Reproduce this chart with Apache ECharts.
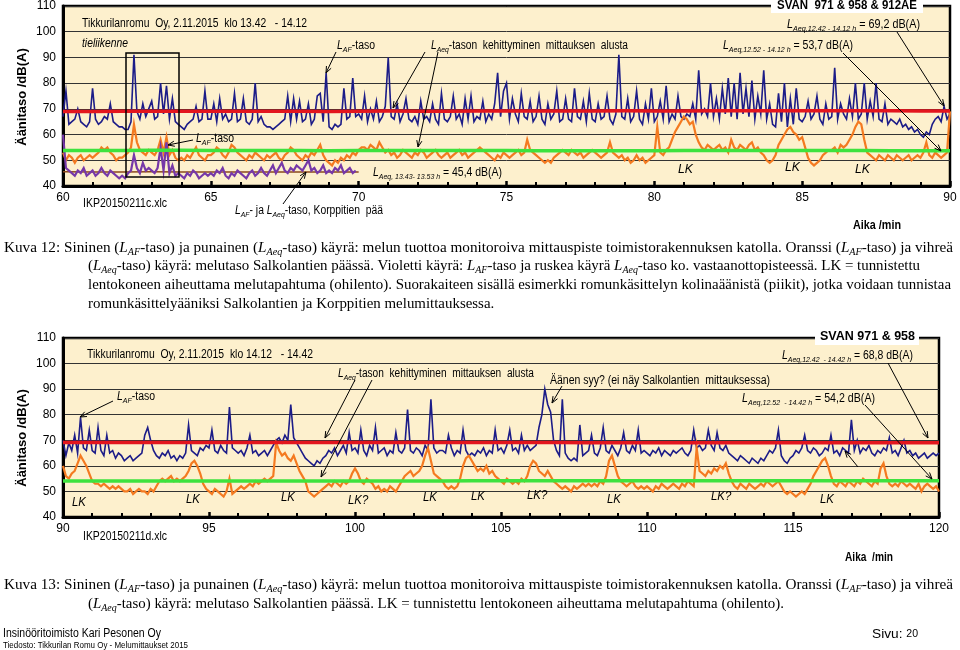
<!DOCTYPE html>
<html><head><meta charset="utf-8">
<script src="https://cdn.jsdelivr.net/npm/echarts@6/dist/echarts.min.js"></script>
<style>html,body{margin:0;padding:0;background:#fff;}#c{width:960px;height:650px;}</style>
</head><body><div id="c"></div>
<script>
// ---------- DATA ----------
const STEP = 0.1;                 // minutes between samples
const topStart = 60, botStart = 90;
const xTicksTop = [60, 65, 70, 75, 80, 85, 90];
const xTicksBot = [90, 95, 100, 105, 110, 115, 120];
const yTicks = [40, 50, 60, 70, 80, 90, 100, 110];

// Kuva 12 – roof (blue LAF) 60.0 … 90.0 min
const topBlueLAF = [
67,77,64,65,66,70,65,64,63,65,
78,66,64,65,67,66,72,65,64,63,
63,62,62,65,91,69,66,72,67,70,
73,66,67,80,68,79,66,74,65,64,
63,62,64,65,66,71,65,66,77,66,
66,72,65,74,66,68,65,66,76,65,
66,74,65,64,66,80,65,67,64,63,
63,62,63,64,65,66,75,65,74,66,
73,65,66,72,64,66,75,76,65,84,
63,62,64,63,64,78,66,67,82,67,
68,66,75,65,70,66,73,65,67,71,
90,67,66,72,65,68,74,66,65,67,
64,73,66,67,65,72,66,64,76,66,
65,67,75,66,68,64,74,66,75,65,
67,66,73,65,68,66,72,84,67,77,
80,66,74,68,65,76,67,66,73,65,
67,75,66,64,72,66,68,77,65,66,
74,66,65,78,67,66,73,65,76,66,
65,72,66,67,75,66,64,68,91,67,
66,74,65,67,77,66,64,72,66,78,
65,67,73,66,79,65,68,66,75,67,
66,68,67,72,66,85,68,70,67,80,
67,74,66,78,68,82,67,80,66,84,
68,78,67,81,66,75,68,85,66,72,
64,63,76,65,80,63,74,64,78,66,
65,67,73,66,68,75,66,64,72,66,
67,86,66,72,68,66,74,67,80,66,
68,80,66,73,67,80,66,65,72,64,
66,65,64,66,63,64,62,63,61,62,
60,59,61,60,64,66,67,65,71,66,
68];
// Salkolantie (orange LAF)
const topOrangeLAF = [
53,50,52,51,49,51,52,50,51,52,
51,52,53,55,54,55,53,52,50,51,
51,52,53,55,64,57,54,53,52,54,
53,52,54,58,53,59,52,54,51,50,
51,50,52,51,53,55,52,51,50,52,
52,53,55,54,52,51,53,56,55,53,
52,51,50,52,51,53,52,51,50,52,
51,52,53,51,50,52,53,55,54,52,
51,50,52,51,53,52,54,56,52,50,
49,48,50,49,51,50,52,51,53,52,
54,55,55,54,56,55,54,57,55,53,
54,52,53,51,52,54,53,52,51,53,
52,54,53,51,52,53,54,52,51,52,
53,51,52,53,54,52,53,51,52,53,
54,55,54,53,52,51,50,52,51,53,
52,51,52,53,54,52,53,58,54,53,
52,51,50,49,50,49,51,52,53,54,
53,52,54,53,52,53,51,52,53,54,
53,52,51,52,53,57,53,52,51,52,
50,51,49,50,52,50,51,49,50,51,
52,63,53,52,54,55,58,61,63,65,
67,66,64,65,60,57,55,54,56,55,
54,55,56,54,55,53,58,55,54,56,
55,54,56,57,54,55,53,52,50,49,
50,52,56,58,60,62,63,61,60,58,
59,55,51,49,48,49,50,52,53,54,
54,55,53,56,55,56,58,60,63,65,
64,58,53,52,51,50,52,51,50,52,
51,50,52,51,50,51,52,50,51,52,
51,53,57,52,51,53,52,51,52,53,
69];
// Korppitie (violet LAF) 60.0 … 69.9 min
const topVioletLAF = [
60,47,46,45,44,46,45,47,44,45,
46,44,45,47,45,44,46,45,44,43,
44,43,45,46,52,47,45,49,46,47,
46,45,47,55,46,57,45,48,44,45,
44,43,45,44,46,45,43,44,45,44,
45,44,46,45,47,44,43,45,44,46,
45,44,43,45,46,44,45,47,45,44,
46,48,45,47,49,46,45,47,46,48,
47,46,48,50,46,47,45,46,48,45,
46,45,47,46,48,45,46,47,45,46];
// LAeq developments, one value per minute
const topRedLAeq   = [69.0,69.0,69.1,69.1,69.1,69.1,69.1,69.1,69.1,69.0,69.1,69.2,69.1,69.1,69.2,69.2,69.2,69.2,69.2,69.3,69.2,69.2,69.3,69.3,69.3,69.3,69.3,69.3,69.3,69.2,69.2];
const topGreenLAeq = [53.8,53.8,53.8,53.9,53.9,53.8,53.8,53.8,53.8,53.7,53.8,53.8,53.8,53.8,53.8,53.8,53.7,53.7,53.7,53.7,53.7,53.8,53.8,53.8,53.8,53.8,53.8,53.8,53.7,53.7,53.7];
const topBrownLAeq = [45.5,45.4,45.4,45.5,45.4,45.4,45.4,45.4,45.4,45.4,45.4];

// Kuva 13 – 90.0 … 120.0 min
const botBlueLAF = [
70,64,69,66,72,65,79,67,66,74,
66,65,75,66,64,72,65,66,63,65,
64,62,63,64,62,63,64,65,72,75,
70,66,64,63,65,64,66,63,64,62,
64,63,65,76,66,65,64,67,66,68,
67,74,66,65,68,66,65,83,67,66,
65,66,64,67,72,65,66,64,65,66,
64,66,68,70,71,69,72,70,84,71,
69,67,65,63,62,61,60,62,61,63,
64,66,65,67,64,66,68,65,73,66,
67,65,74,66,64,68,66,75,65,66,
67,64,66,65,73,66,65,67,82,66,
65,67,66,64,68,66,86,67,65,66,
66,65,72,67,64,66,65,74,66,64,
65,64,66,65,67,64,66,65,74,66,
67,65,68,74,66,67,65,72,66,68,
66,67,68,75,80,90,84,81,70,66,
64,86,65,63,62,63,62,76,64,65,
66,72,65,64,67,75,66,65,68,66,
64,67,73,66,65,68,66,74,65,66,
65,64,66,65,67,64,66,65,64,66,
65,66,67,65,64,66,74,67,68,66,
67,74,68,66,73,67,66,68,65,64,
63,62,64,63,62,61,63,62,61,63,
62,64,66,65,67,74,64,62,61,63,
64,66,65,67,72,66,65,67,66,64,
65,67,66,72,65,66,64,67,66,65,
78,66,70,65,67,66,68,65,64,66,
65,67,66,71,65,66,64,67,70,65,
66,64,65,63,64,65,63,64,65,64,
65];
const botOrangeLAF = [
60,56,55,57,58,61,64,62,60,57,
54,53,53,52,53,52,51,52,51,52,
51,50,50,51,49,50,51,50,50,49,
51,50,52,54,55,54,55,56,54,55,
54,55,56,58,61,62,60,57,53,51,
50,49,51,50,49,48,50,55,49,50,
51,52,51,52,53,52,54,53,54,55,
54,55,56,69,66,64,65,63,62,64,
61,58,56,54,50,49,48,49,50,51,
52,53,52,54,53,52,54,53,54,57,
59,57,54,53,55,54,53,51,52,50,
51,50,52,51,50,52,54,56,57,58,
56,57,58,60,64,67,62,57,56,55,
54,52,51,52,51,52,55,60,63,64,
62,60,58,59,58,60,57,58,56,55,
54,53,55,54,53,54,53,55,54,56,
60,62,61,58,57,56,58,56,54,53,
52,51,52,51,50,52,51,52,53,52,
53,52,53,52,54,53,56,62,64,60,
56,54,53,52,53,54,52,51,52,51,
52,51,50,52,51,53,52,51,52,53,
52,51,53,52,54,53,52,67,58,57,
56,58,57,59,58,60,59,61,57,54,
52,51,53,52,51,53,52,51,52,53,
52,54,53,52,53,54,52,50,49,50,
49,48,49,50,49,51,53,56,58,60,
62,63,60,56,53,52,54,53,52,54,
53,52,54,53,55,54,53,52,54,53,
59,61,56,53,52,53,52,54,53,52,
53,52,51,53,50,52,53,52,51,52,
50];
const botRedLAeq   = [69.1,69.1,69.1,69.1,69.1,69.1,69.1,69.1,69.1,69.1,69.1,69.1,69.1,69.1,69.1,69.1,69.1,69.1,69.0,69.0,69.0,69.0,69.0,69.0,69.0,69.0,69.0,69.0,69.0,69.0,69.0];
const botGreenLAeq = [54.1,54.1,54.1,54.1,54.1,54.1,54.1,54.1,54.1,54.1,54.1,54.1,54.1,54.1,54.2,54.2,54.2,54.2,54.2,54.2,54.2,54.2,54.2,54.2,54.2,54.2,54.2,54.2,54.2,54.2,54.2];

// ---------- CHART ----------
function pts(start, step, vals) { return vals.map((v, i) => [+(start + i * step).toFixed(2), v]); }

const SANS = 'Liberation Sans';
const SERIF = 'Liberation Serif';
const BLUE = '#1c1c88', ORANGE = '#f47a20', VIOLET = '#7638a8', RED = '#e3161e', GREEN = '#3ee23e', BROWN = '#8b4a1c';
const PLOT_BG = '#fdf0cd';

const chart = echarts.init(document.getElementById('c'), null, { renderer: 'canvas' });

function xAxisFor(gi, ticks) {
  return {
    gridIndex: gi, type: 'value', min: ticks[0], max: ticks[ticks.length - 1], interval: ticks[1] - ticks[0],
    axisLine: { lineStyle: { color: '#000', width: 3 } },
    axisTick: { inside: true, length: 5, lineStyle: { color: '#000', width: 2.5 } },
    minorTick: { show: true, splitNumber: 5, length: 4, lineStyle: { color: '#000', width: 2 } },
    axisLabel: { fontSize: 12, color: '#000', margin: 6, fontFamily: SANS },
    splitLine: { show: false }
  };
}
function yAxisFor(gi) {
  return {
    gridIndex: gi, type: 'value', min: yTicks[0], max: yTicks[yTicks.length - 1], interval: yTicks[1] - yTicks[0],
    axisLine: { show: true, lineStyle: { color: '#000', width: 3 } },
    axisTick: { show: false },
    axisLabel: { fontSize: 12, color: '#000', margin: 7, fontFamily: SANS },
    splitLine: { show: true, lineStyle: { color: '#333', width: 1 } }
  };
}
function line(name, xi, data, color, width, z) {
  return { name, type: 'line', xAxisIndex: xi, yAxisIndex: xi, data, showSymbol: false, symbol: 'none',
    lineStyle: { color, width, join: 'miter' }, z, silent: true };
}

// ---- text helpers ----
const mctx = document.createElement('canvas').getContext('2d');
function richDefs(fam, fs) {
  const sub = Math.round(fs * 0.68);
  return {
    L: { fontStyle: 'italic', fontWeight: 'normal', fontSize: fs, fontFamily: fam, lineHeight: fs + 3 },
    s: { fontStyle: 'italic', fontWeight: 'normal', fontSize: sub, fontFamily: fam, lineHeight: sub + 1, verticalAlign: 'bottom' },
    n: { fontStyle: 'normal', fontWeight: 'normal', fontSize: sub + 1, fontFamily: fam, lineHeight: fs + 3 }
  };
}
function measureRich(text, base, rich) {
  let w = 0; const re = /\{(\w+)\|([^}]*)\}/g; let last = 0, m;
  const seg = (t, st) => { mctx.font = (st.fontStyle || 'normal') + ' ' + (st.fontWeight || 'normal') + ' ' + st.fontSize + 'px "' + st.fontFamily + '"'; w += mctx.measureText(t).width; };
  while ((m = re.exec(text))) { if (m.index > last) seg(text.slice(last, m.index), base); seg(m[2], Object.assign({}, base, rich[m[1]])); last = re.lastIndex; }
  if (last < text.length) seg(text.slice(last), base);
  return w;
}
function baseOf(o) {
  return { fontSize: o.size || 12, fontFamily: o.serif ? SERIF : SANS, fontWeight: o.bold ? 'bold' : 'normal', fontStyle: o.italic ? 'italic' : 'normal' };
}
function fitScale(text, o) {
  const b = baseOf(o);
  return o.w / measureRich(text, b, richDefs(b.fontFamily, b.fontSize));
}
function mkText(x, y, text, o) {
  o = o || {};
  const base = baseOf(o), fs = base.fontSize;
  const rich = richDefs(base.fontFamily, fs);
  let sx = o.sx || 0.87;
  if (o.w) sx = o.w / measureRich(text, base, rich);
  return {
    type: 'text', x, y, scaleX: sx, rotation: o.rot || 0, z: 100, silent: true,
    style: Object.assign({ text, fill: '#000', lineHeight: fs + 3, rich,
      textAlign: o.align || 'left', textVerticalAlign: 'middle', align: o.align || 'left', verticalAlign: 'middle' }, base)
  };
}
function arrow(x1, y1, x2, y2) {
  const ang = Math.atan2(y2 - y1, x2 - x1), L = 7, a = 0.38;
  const p1 = [x2 - L * Math.cos(ang - a), y2 - L * Math.sin(ang - a)];
  const p2 = [x2 - L * Math.cos(ang + a), y2 - L * Math.sin(ang + a)];
  return [
    { type: 'line', z: 100, silent: true, shape: { x1, y1, x2, y2 }, style: { stroke: '#000', lineWidth: 1 } },
    { type: 'polyline', z: 100, silent: true, shape: { points: [p1, [x2, y2], p2] }, style: { stroke: '#000', lineWidth: 1, fill: null } }
  ];
}

const LAF = '{L|L}{s|AF}';
const LAEQ = '{L|L}{s|Aeq}';
const g = [];
// ----- top chart annotations -----
g.push(mkText(82, 24, 'Tikkurilanromu  Oy, 2.11.2015  klo 13.42   - 14.12', { w: 225 }));
g.push(mkText(82, 44, 'tieliikenne', { italic: true, w: 46 }));
g.push(mkText(337, 46, LAF + '-taso', { w: 38 }));
g.push(mkText(431, 46, LAEQ + '-tason  kehittyminen  mittauksen  alusta', { w: 197 }));
g.push({ type: 'rect', z: 99, silent: true, shape: { x: 771, y: 0, width: 152, height: 13 }, style: { fill: '#fff' } });
g.push(mkText(777, 6, 'SVAN  971 & 958 & 912AE', { bold: true, w: 140 }));
g.push(mkText(787, 25, '{L|L}{s|Aeq,12.42 - 14.12 h} = 69,2 dB(A)', { w: 133 }));
g.push(mkText(723, 46, '{L|L}{s|Aeq,12.52 - 14.12 h} = 53,7 dB(A)', { w: 130 }));
g.push(mkText(196, 139, LAF + '-taso', { w: 38 }));
g.push(mkText(373, 173, '{L|L}{s|Aeq, 13.43- 13.53 h} = 45,4 dB(A)', { w: 129 }));
[[678, 170], [785, 168], [855, 170]].forEach(p => g.push(mkText(p[0], p[1], 'LK', { italic: true, w: 15 })));
g.push(mkText(83, 204, 'IKP20150211c.xlc', { w: 84 }));
g.push(mkText(235, 211, LAF + '- ja ' + LAEQ + '-taso, Korppitien  pää', { w: 148 }));
g.push(mkText(853, 226, 'Aika /min', { bold: true, w: 48 }));
g.push(mkText(22, 97, 'Äänitaso /dB(A)', { bold: true, size: 13, sx: 1, rot: Math.PI / 2, align: 'center' }));
g.push({ type: 'rect', z: 100, silent: true, shape: { x: 126, y: 53, width: 53, height: 124 }, style: { fill: null, stroke: '#000', lineWidth: 1.5 } });
[[336, 52, 326, 73], [425, 52, 393, 108], [438, 52, 418, 147], [897, 32, 944, 106], [843, 53, 941, 151], [193, 140, 168, 145], [283, 204, 306, 172]]
  .forEach(a => g.push(...arrow(...a)));

// ----- bottom chart annotations -----
g.push(mkText(87, 355, 'Tikkurilanromu  Oy, 2.11.2015  klo 14.12   - 14.42', { w: 226 }));
g.push({ type: 'rect', z: 99, silent: true, shape: { x: 815, y: 330, width: 104, height: 15 }, style: { fill: '#fff' } });
g.push(mkText(820, 337, 'SVAN 971 & 958', { bold: true, w: 95 }));
g.push(mkText(782, 356, '{L|L}{s|Aeq,12.42  - 14.42 h} = 68,8 dB(A)', { w: 131 }));
g.push(mkText(117, 397, LAF + '-taso', { w: 38 }));
g.push(mkText(338, 374, LAEQ + '-tason  kehittyminen  mittauksen  alusta', { w: 196 }));
g.push(mkText(550, 381, 'Äänen syy? (ei näy Salkolantien  mittauksessa)', { w: 220 }));
g.push(mkText(742, 399, '{L|L}{s|Aeq,12.52  - 14.42 h} = 54,2 dB(A)', { w: 133 }));
[[72, 503, 'LK'], [186, 500, 'LK'], [281, 498, 'LK'], [348, 501, 'LK?'], [423, 498, 'LK'], [471, 497, 'LK'], [527, 496, 'LK?'], [607, 500, 'LK'], [711, 497, 'LK?'], [820, 500, 'LK']]
  .forEach(p => g.push(mkText(p[0], p[1], p[2], { italic: true, sx: 0.95 })));
g.push(mkText(83, 537, 'IKP20150211d.xlc', { w: 84 }));
g.push(mkText(845, 558, 'Aika  /min', { bold: true, w: 48 }));
g.push(mkText(22, 438, 'Äänitaso /dB(A)', { bold: true, size: 13, sx: 1, rot: Math.PI / 2, align: 'center' }));
[[113, 401, 80, 417], [355, 380, 325, 438], [372, 380, 321, 477], [562, 386, 552, 403], [888, 363, 928, 438], [865, 405, 932, 479], [858, 467, 845, 451]]
  .forEach(a => g.push(...arrow(...a)));

// ----- captions -----
const cap1 = [
  'Kuva 12: Sininen (' + LAF + '-taso) ja punainen (' + LAEQ + '-taso) käyrä: melun tuottoa monitoroiva mittauspiste toimistorakennuksen katolla. Oranssi (' + LAF + '-taso) ja vihreä',
  '(' + LAEQ + '-taso) käyrä: melutaso Salkolantien päässä. Violetti käyrä: ' + LAF + '-taso ja ruskea käyrä ' + LAEQ + '-taso ko. vastaanottopisteessä. LK = tunnistettu',
  'lentokoneen aiheuttama melutapahtuma (ohilento). Suorakaiteen sisällä esimerkki romunkäsittelyn kolinaäänistä (piikit), jotka voidaan tunnistaa',
  'romunkäsittelyääniksi Salkolantien ja Korppitien melumittauksessa.'
];
const cap2 = [
  'Kuva 13: Sininen (' + LAF + '-taso) ja punainen (' + LAEQ + '-taso) käyrä: melun tuottoa monitoroiva mittauspiste toimistorakennuksen katolla. Oranssi (' + LAF + '-taso) ja vihreä',
  '(' + LAEQ + '-taso) käyrä: melutaso Salkolantien päässä. LK = tunnistettu lentokoneen aiheuttama melutapahtuma (ohilento).'
];
const CS = { serif: true, size: 15 };
const capScale = fitScale(cap1[2], Object.assign({ w: 863 }, CS));
g.push(mkText(4, 248, cap1[0], Object.assign({ w: 949 }, CS)));
g.push(mkText(88, 266, cap1[1], Object.assign({ sx: capScale }, CS)));
g.push(mkText(88, 285, cap1[2], Object.assign({ sx: capScale }, CS)));
g.push(mkText(88, 304, cap1[3], Object.assign({ sx: capScale }, CS)));
g.push(mkText(4, 585, cap2[0], Object.assign({ w: 949 }, CS)));
g.push(mkText(88, 604, cap2[1], Object.assign({ sx: capScale }, CS)));
// footer
g.push(mkText(3, 634, 'Insinööritoimisto Kari Pesonen Oy', { size: 12, w: 158 }));
g.push(mkText(3, 646, 'Tiedosto: Tikkurilan Romu Oy - Melumittaukset 2015', { size: 9, w: 185 }));
g.push(mkText(872, 634, 'Sivu: {n|20}', { size: 13, w: 46 }));

const option = {
  animation: false,
  backgroundColor: '#fff',
  textStyle: { fontFamily: SANS },
  grid: [
    { left: 63, top: 6, width: 887, height: 180, show: true, backgroundColor: PLOT_BG, borderColor: '#000', borderWidth: 2.5 },
    { left: 63, top: 338, width: 876, height: 179, show: true, backgroundColor: PLOT_BG, borderColor: '#000', borderWidth: 2.5 }
  ],
  xAxis: [xAxisFor(0, xTicksTop), xAxisFor(1, xTicksBot)],
  yAxis: [yAxisFor(0), yAxisFor(1)],
  series: [
    line('Sininen LAF', 0, pts(topStart, STEP, topBlueLAF), BLUE, 1.6, 2),
    line('Oranssi LAF', 0, pts(topStart, STEP, topOrangeLAF), ORANGE, 2.2, 3),
    line('Ruskea LAeq', 0, pts(topStart, 1, topBrownLAeq), BROWN, 1.5, 3),
    line('Violetti LAF', 0, pts(topStart, STEP, topVioletLAF), VIOLET, 2.2, 4),
    line('Punainen LAeq', 0, pts(topStart, 1, topRedLAeq), RED, 3.5, 5),
    line('Vihreä LAeq', 0, pts(topStart, 1, topGreenLAeq), GREEN, 3.5, 5),
    line('Sininen LAF', 1, pts(botStart, STEP, botBlueLAF), BLUE, 1.6, 2),
    line('Oranssi LAF', 1, pts(botStart, STEP, botOrangeLAF), ORANGE, 2.2, 3),
    line('Punainen LAeq', 1, pts(botStart, 1, botRedLAeq), RED, 3.5, 5),
    line('Vihreä LAeq', 1, pts(botStart, 1, botGreenLAeq), GREEN, 3.5, 5)
  ],
  graphic: g
};
chart.setOption(option);
</script>
</body></html>
